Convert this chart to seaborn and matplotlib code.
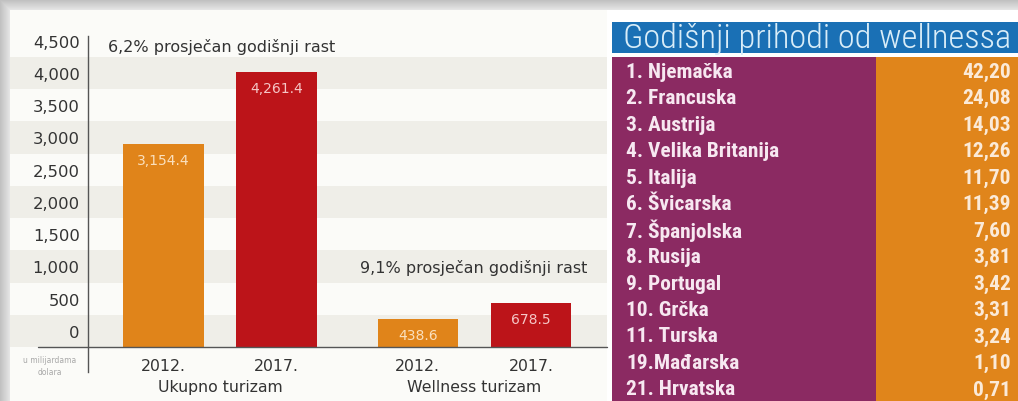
import numpy as np
import pandas as pd
import matplotlib
matplotlib.use("Agg")
import matplotlib.pyplot as plt
from matplotlib.patches import Rectangle
from matplotlib import font_manager
import seaborn as sns

# ---- data -------------------------------------------------------------
groups = ["Ukupno turizam", "Wellness turizam"]
years = ["2012.", "2017."]
revenue_2012 = [3154.4, 438.6]
revenue_2017 = [4261.4, 678.5]
growth_notes = ["6,2% prosječan godišnji rast", "9,1% prosječan godišnji rast"]
y_tick_values = [0, 500, 1000, 1500, 2000, 2500, 3000, 3500, 4000, 4500]
unit_note = "u milijardama\ndolara"

table_title = "Godišnji prihodi od wellnessa"
countries = ["1. Njemačka", "2. Francuska", "3. Austrija", "4. Velika Britanija",
             "5. Italija", "6. Švicarska", "7. Španjolska", "8. Rusija",
             "9. Portugal", "10. Grčka", "11. Turska", "19.Mađarska", "21. Hrvatska"]
country_values = ["42,20", "24,08", "14,03", "12,26", "11,70", "11,39", "7,60",
                  "3,81", "3,42", "3,31", "3,24", "1,10", "0,71"]

# ---- style ------------------------------------------------------------
W, H = 1018, 402
DPI = 100
sns.set_theme(style="white")
plt.rcParams["font.family"] = ["DejaVu Sans"]

ORANGE = "#e0841a"
RED = "#bc1419"
BAND_GREY = "#efeee8"
BAND_LIGHT = "#fbfbf8"
TEXT = "#333333"
BLUE = "#1a70b5"
PURPLE = "#8b2a62"
TABLE_ORANGE = "#e0851b"

installed = {f.name for f in font_manager.fontManager.ttflist}
narrow_candidates = ["Roboto Condensed", "Open Sans Condensed", "Liberation Sans Narrow",
                     "DejaVu Sans Condensed", "Noto Sans Condensed"]
narrow = [f for f in narrow_candidates if f in installed][:1] + ["DejaVu Sans"]
narrow_stretch = "condensed"

fig = plt.figure(figsize=(W / DPI, H / DPI), dpi=DPI, facecolor="white")

# frame shadow around the panels (top and left edges)
bg = fig.add_axes([0, 0, 1, 1])
bg.set_axis_off()
yy, xx = np.mgrid[0:H, 0:W]
d = np.minimum(np.clip(yy - 1, 0, None) / 10.0, np.clip(xx, 0, None) / 10.0)
shade = np.where((yy < 11) | (xx < 10), 0.76 + 0.15 * np.clip(d, 0, 1), 1.0)
bg.imshow(np.dstack([shade] * 3), extent=[0, W, H, 0], aspect="auto", interpolation="bilinear")
bg.set_xlim(0, W)
bg.set_ylim(H, 0)
bg.add_patch(Rectangle((10, 11), 597, H - 11, color=BAND_LIGHT, lw=0))


def px_to_fig(x0, y0, x1, y1):
    return [x0 / W, 1 - y1 / H, (x1 - x0) / W, (y1 - y0) / H]


# ---- bar chart --------------------------------------------------------
ax_left_px, ax_right_px, ax_top_px, ax_bottom_px = 88, 607, 11, 402
baseline_px = 348
scale = 0.0645  # px per unit
ax = fig.add_axes(px_to_fig(ax_left_px, ax_top_px, ax_right_px, ax_bottom_px))
ax.set_facecolor("none")
ylims = (-(ax_bottom_px - baseline_px) / scale, (baseline_px - ax_top_px) / scale)

unit_px = 254.5
first_center_px = 220
x_lo = -(first_center_px - ax_left_px) / unit_px
xlims = (x_lo, x_lo + (ax_right_px - ax_left_px) / unit_px)

left_ext = -(ax_left_px - 10) / (ax_right_px - ax_left_px)
for i, v in enumerate(y_tick_values):
    ax.axhspan(v, v + 500, xmin=left_ext, xmax=1, clip_on=False, lw=0, zorder=0,
               color=BAND_GREY if i % 2 == 0 else BAND_LIGHT)

df = pd.DataFrame({
    "group": groups * 2,
    "year": [years[0]] * len(groups) + [years[1]] * len(groups),
    "value": revenue_2012 + revenue_2017,
})
sns.barplot(data=df, x="group", y="value", hue="year", order=groups, hue_order=years,
            palette={years[0]: ORANGE, years[1]: RED}, saturation=1,
            width=0.89, gap=0.29, legend=False, ax=ax, zorder=3, linewidth=0)
ax.set_xlim(*xlims)
ax.set_ylim(*ylims)

label_colors = {years[0]: "#fae0be", years[1]: "#f5c6c6"}
for year, container in zip(years, ax.containers):
    for bar in container:
        xc = bar.get_x() + bar.get_width() / 2
        h = bar.get_height()
        ax.annotate(f"{h:,.1f}", (xc, h), xytext=(0, -11.5), textcoords="offset points",
                    ha="center", va="center", fontsize=10, color=label_colors[year], zorder=4)
        ax.annotate(year, (xc, 0), xytext=(0, -13.3), textcoords="offset points",
                    ha="center", va="center", fontsize=11.3, color=TEXT)

for gi, g in enumerate(groups):
    ax.annotate(g, (gi, 0), xytext=(0, -28.8), textcoords="offset points",
                ha="center", va="center", fontsize=11.3, color=TEXT)

# growth notes
ax.text(x_lo + (108 - ax_left_px) / unit_px, (baseline_px - 47) / scale, growth_notes[0],
        ha="left", va="center", fontsize=11.5, color=TEXT)
ax.text(x_lo + (587 - ax_left_px) / unit_px, (baseline_px - 268) / scale, growth_notes[1],
        ha="right", va="center", fontsize=11.5, color=TEXT)

# baseline and y axis
ax.axhline(0, xmin=-(ax_left_px - 38) / (ax_right_px - ax_left_px), xmax=1,
           color="#555555", lw=1.0, clip_on=False, zorder=5)
for s in ["top", "right", "bottom"]:
    ax.spines[s].set_visible(False)
ax.spines["left"].set_color("#555555")
ax.spines["left"].set_linewidth(1.0)
ax.spines["left"].set_bounds(-(373 - baseline_px) / scale, (baseline_px - 37) / scale)
ax.spines["left"].set_zorder(5)

ax.set_yticks([v + 250 for v in y_tick_values])
ax.set_yticklabels([f"{v:,}" for v in y_tick_values], fontsize=11.8, color=TEXT)
ax.tick_params(axis="y", length=0, pad=6)
ax.set_xticks([])
ax.set_xlabel("")
ax.set_ylabel("")

ax.text(-(ax_left_px - 50) / (ax_right_px - ax_left_px), -(356 - baseline_px) / scale, unit_note,
        transform=ax.get_yaxis_transform(), ha="center", va="top", fontsize=5.5,
        color="#a8a8a8", linespacing=1.5)

# ---- wellness revenue table ---------------------------------------------
tx = fig.add_axes(px_to_fig(612, 23, W, H))
tx.set_axis_off()
tx.set_xlim(612, W)
tx.set_ylim(H, 23)
tx.add_patch(Rectangle((612, 23), W - 612, 31, color=BLUE, lw=0))
tx.add_patch(Rectangle((612, 58), 876 - 612, H - 58, color=PURPLE, lw=0))
tx.add_patch(Rectangle((876, 58), W - 876, H - 58, color=TABLE_ORANGE, lw=0))

renderer = fig.canvas.get_renderer()


def fit_width(text, target_px):
    """Shrink a text's font size so that it spans target_px pixels."""
    w = text.get_window_extent(renderer).width
    text.set_fontsize(text.get_fontsize() * target_px / w)


title = tx.text(623, 39, table_title, ha="left", va="center", fontsize=23,
                family=narrow, fontstretch=narrow_stretch, weight="light", color="#d9edf8")
fit_width(title, 389)

row_h = 26.5
row_texts = []
for i, (c, v) in enumerate(zip(countries, country_values)):
    y = 72 + i * row_h
    t = tx.text(626, y, c, ha="left", va="center", fontsize=12.5, weight="bold",
                family=narrow, fontstretch=narrow_stretch, color="#f7e8f1")
    vt = tx.text(1011, y, v, ha="right", va="center", fontsize=12.5, weight="bold",
                 family=narrow, fontstretch=narrow_stretch, color="#fbead8")
    row_texts.append((t, vt))

# scale rows so the longest name spans the same width as in the layout
longest = max(row_texts, key=lambda p: p[0].get_window_extent(renderer).width)[0]
ratio = 154 / longest.get_window_extent(renderer).width
ratio = max(ratio, 0.88)
for t, vt in row_texts:
    t.set_fontsize(t.get_fontsize() * ratio)
    vt.set_fontsize(vt.get_fontsize() * ratio)

fig.savefig("out.png", dpi=DPI, facecolor="white")
